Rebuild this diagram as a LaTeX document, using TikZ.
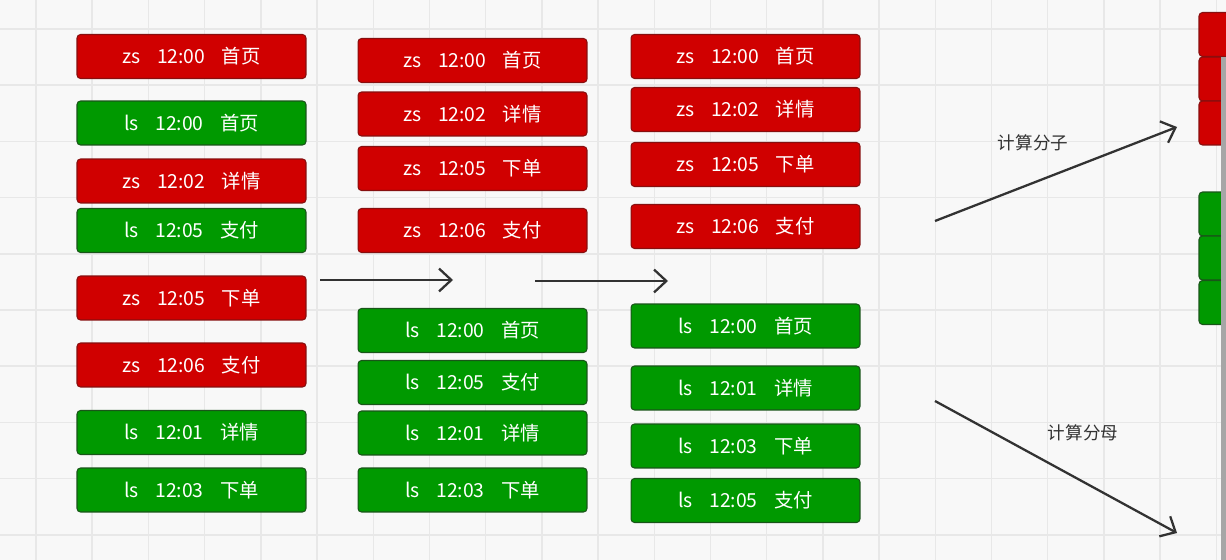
\documentclass[tikz,border=0pt]{standalone}
\usepackage{fontspec}
\setmainfont{Noto Sans CJK SC}
\usetikzlibrary{arrows.meta}

\definecolor{zsred}{RGB}{208,0,0}
\definecolor{zsedge}{RGB}{135,15,15}
\definecolor{lsgreen}{RGB}{0,153,0}
\definecolor{lsedge}{RGB}{25,85,25}
\definecolor{paper}{RGB}{248,248,248}
\definecolor{gridline}{RGB}{232,232,232}
\definecolor{pen}{RGB}{50,50,50}

\tikzset{
  event/.style={rounded corners=2pt, minimum width=4.58cm, minimum height=0.88cm,
    inner sep=0pt, text=white, font=\fontsize{11}{13}\selectfont, line width=0.6pt},
  zs/.style={event, fill=zsred, draw=zsedge},
  ls/.style={event, fill=lsgreen, draw=lsedge},
  stub/.style={minimum width=1cm},
  flow/.style={draw=pen, line width=1.3pt, -{Straight Barb[length=7pt,width=13pt]}},
  tag/.style={text=pen, font=\fontsize{10}{12}\selectfont}
}
\newcommand{\rec}[3]{#1\hspace{0.85em}#2\hspace{0.85em}#3}

\begin{document}
\begin{tikzpicture}[x=0.02cm, y=-0.02cm]
 	\useasboundingbox (0,0) rectangle (1226,560);
 	\clip (0,0) rectangle (1226,560);
 	\fill[paper] (0,0) rectangle (1226,560);
 	\foreach \i in {0,...,21}
 	  \draw[gridline, line width=0.8pt] ({36+56.2*\i},0) -- ({36+56.2*\i},560);
 	\foreach \j in {0,...,9}
 	  \draw[gridline, line width=0.8pt] (0,{29+56.2*\j}) -- (1226,{29+56.2*\j});

 	% raw log
 	\node[zs] (log1) at (191.5,56.5) {\rec{zs}{12:00}{首页}};
 	\node[ls] (log2) at (191.5,123) {\rec{ls}{12:00}{首页}};
 	\node[zs] (log3) at (191.5,181) {\rec{zs}{12:02}{详情}};
 	\node[ls] (log4) at (191.5,230.5) {\rec{ls}{12:05}{支付}};
 	\node[zs] (log5) at (191.5,298) {\rec{zs}{12:05}{下单}};
 	\node[zs] (log6) at (191.5,365) {\rec{zs}{12:06}{支付}};
 	\node[ls] (log7) at (191.5,432.5) {\rec{ls}{12:01}{详情}};
 	\node[ls] (log8) at (191.5,490) {\rec{ls}{12:03}{下单}};

 	% grouped by user
 	\node[zs] (user1) at (472.5,60.5) {\rec{zs}{12:00}{首页}};
 	\node[zs] (user2) at (472.5,114) {\rec{zs}{12:02}{详情}};
 	\node[zs] (user3) at (472.5,168.5) {\rec{zs}{12:05}{下单}};
 	\node[zs] (user4) at (472.5,230.5) {\rec{zs}{12:06}{支付}};
 	\node[ls] (user5) at (472.5,330.5) {\rec{ls}{12:00}{首页}};
 	\node[ls] (user6) at (472.5,382.5) {\rec{ls}{12:05}{支付}};
 	\node[ls] (user7) at (472.5,433) {\rec{ls}{12:01}{详情}};
 	\node[ls] (user8) at (472.5,490) {\rec{ls}{12:03}{下单}};

 	% sorted by time
 	\node[zs] (sort1) at (745.5,56.5) {\rec{zs}{12:00}{首页}};
 	\node[zs] (sort2) at (745.5,109.5) {\rec{zs}{12:02}{详情}};
 	\node[zs] (sort3) at (745.5,164.5) {\rec{zs}{12:05}{下单}};
 	\node[zs] (sort4) at (745.5,226.5) {\rec{zs}{12:06}{支付}};
 	\node[ls] (sort5) at (745.5,326) {\rec{ls}{12:00}{首页}};
 	\node[ls] (sort6) at (745.5,388) {\rec{ls}{12:01}{详情}};
 	\node[ls] (sort7) at (745.5,446) {\rec{ls}{12:03}{下单}};
 	\node[ls] (sort8) at (745.5,500.5) {\rec{ls}{12:05}{支付}};

 	% cut off at the right edge
 	\node[zs, stub] (zsend1) at (1224,34.5) {};
 	\node[zs, stub] (zsend2) at (1224,79) {};
 	\node[zs, stub] (zsend3) at (1224,123) {};
 	\node[ls, stub] (lsend1) at (1224,214) {};
 	\node[ls, stub] (lsend2) at (1224,258) {};
 	\node[ls, stub] (lsend3) at (1224,302.5) {};
 	\fill[gray!70] (1221,57) rectangle (1226,560);

 	% arrows
 	\coordinate (go1) at (320,280);
 	\coordinate (to1) at (453,280);
 	\coordinate (go2) at (535,281);
 	\coordinate (to2) at (668,281);
 	\coordinate (go3) at (935,221);
 	\coordinate (to3) at (1177,127);
 	\coordinate (go4) at (935,401);
 	\coordinate (to4) at (1177,533);
 	\draw[flow] (go1) -- (to1);
 	\draw[flow] (go2) -- (to2);
 	\draw[flow] (go3) -- (to3);
 	\draw[flow] (go4) -- (to4);
 	\node[tag] (numer) at (1033,143) {计算分子};
 	\node[tag] (denom) at (1083,433) {计算分母};
\end{tikzpicture}
\end{document}
